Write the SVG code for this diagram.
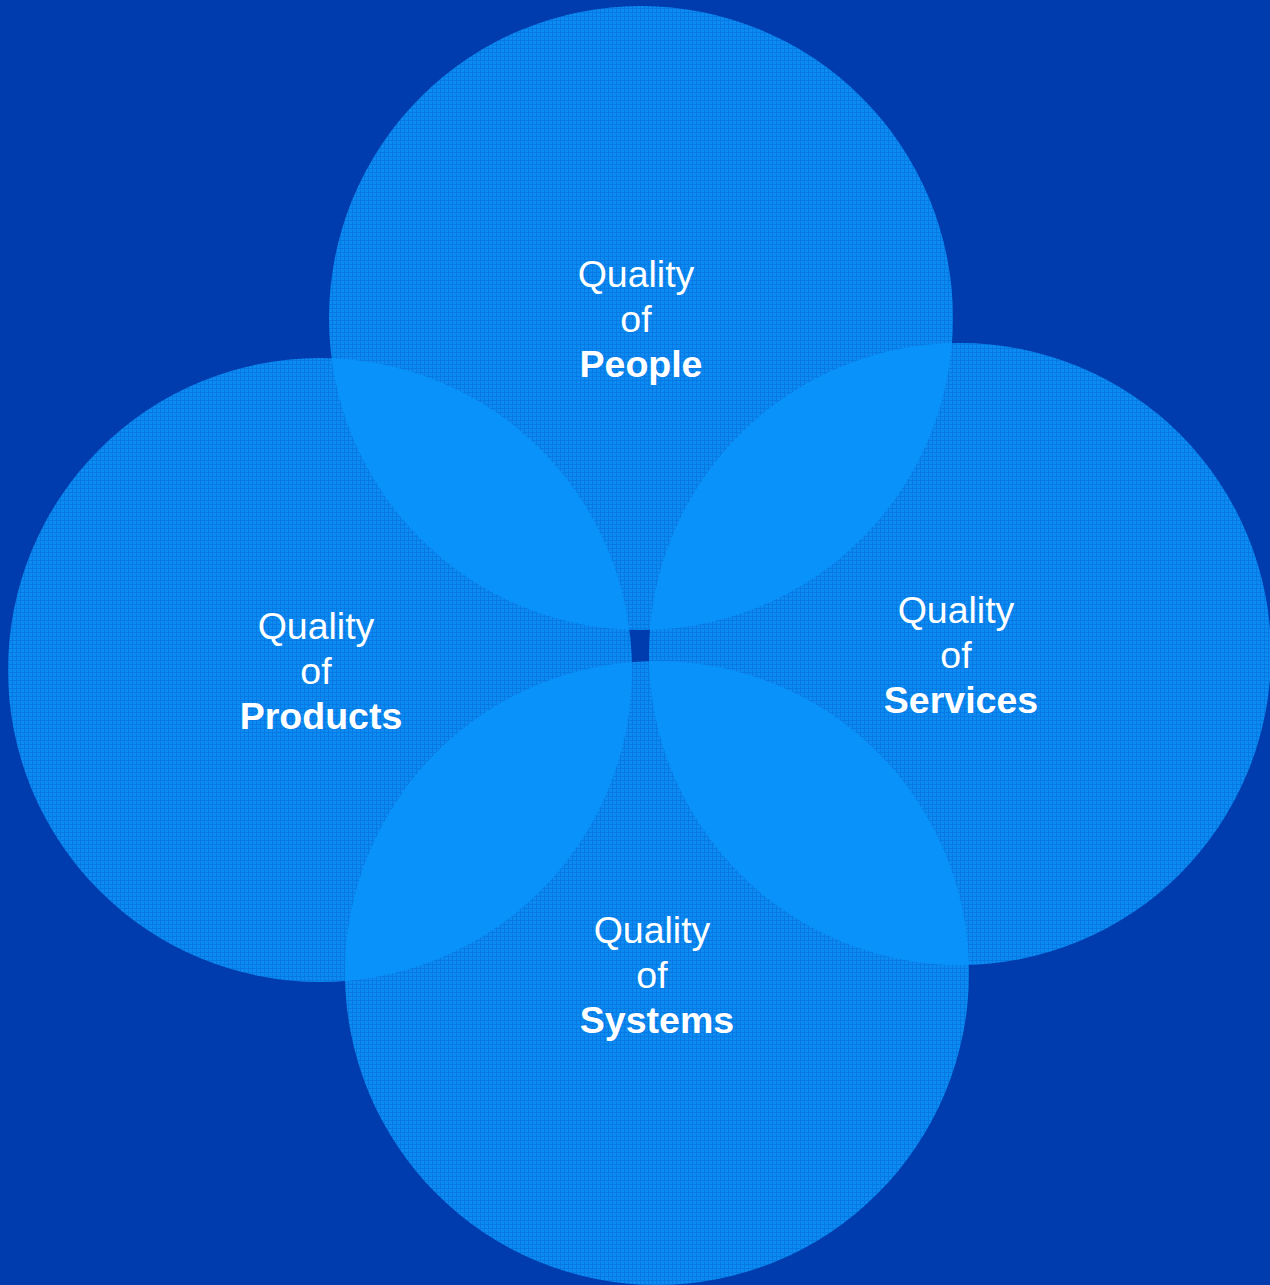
<svg xmlns="http://www.w3.org/2000/svg" width="1270" height="1285" viewBox="0 0 1270 1285">
<style>
.q{font-family:"Liberation Sans",Arial,sans-serif;font-size:37.5px;fill:#fff;text-anchor:middle}
.b{font-weight:bold}
.lens{fill:#0a92fb}
</style>
<defs>
<pattern id="grid" width="4" height="4" patternUnits="userSpaceOnUse">
<rect width="4" height="4" fill="#0c8cf3"/>
<rect width="4" height="1" fill="#0879e2"/>
<rect width="1" height="4" fill="#0879e2"/>
</pattern>
<clipPath id="cL"><circle cx="320" cy="670" r="312"/></clipPath>
<clipPath id="cR"><circle cx="960" cy="654" r="311"/></clipPath>
</defs>
<rect width="1270" height="1285" fill="#003cad"/>
<g id="people"><circle cx="641" cy="318" r="312" fill="url(#grid)"/></g>
<g id="products"><circle cx="320" cy="670" r="312" fill="url(#grid)"/></g>
<g id="services"><circle cx="960" cy="654" r="311" fill="url(#grid)"/></g>
<g id="systems"><circle cx="657" cy="973" r="312" fill="url(#grid)"/></g>
<g id="overlaps">
<circle class="lens" cx="641" cy="318" r="312" clip-path="url(#cL)"/>
<circle class="lens" cx="641" cy="318" r="312" clip-path="url(#cR)"/>
<circle class="lens" cx="657" cy="973" r="312" clip-path="url(#cL)"/>
<circle class="lens" cx="657" cy="973" r="312" clip-path="url(#cR)"/>
</g>
<g id="labels">
<text class="q" x="636" y="287">Quality</text>
<text class="q" x="636" y="332">of</text>
<text class="q b" x="641" y="377">People</text>
<text class="q" x="316" y="639">Quality</text>
<text class="q" x="316" y="684">of</text>
<text class="q b" x="321" y="729">Products</text>
<text class="q" x="956" y="623">Quality</text>
<text class="q" x="956" y="668">of</text>
<text class="q b" x="961" y="713">Services</text>
<text class="q" x="652" y="943">Quality</text>
<text class="q" x="652" y="988">of</text>
<text class="q b" x="657" y="1033">Systems</text>
</g>
</svg>
